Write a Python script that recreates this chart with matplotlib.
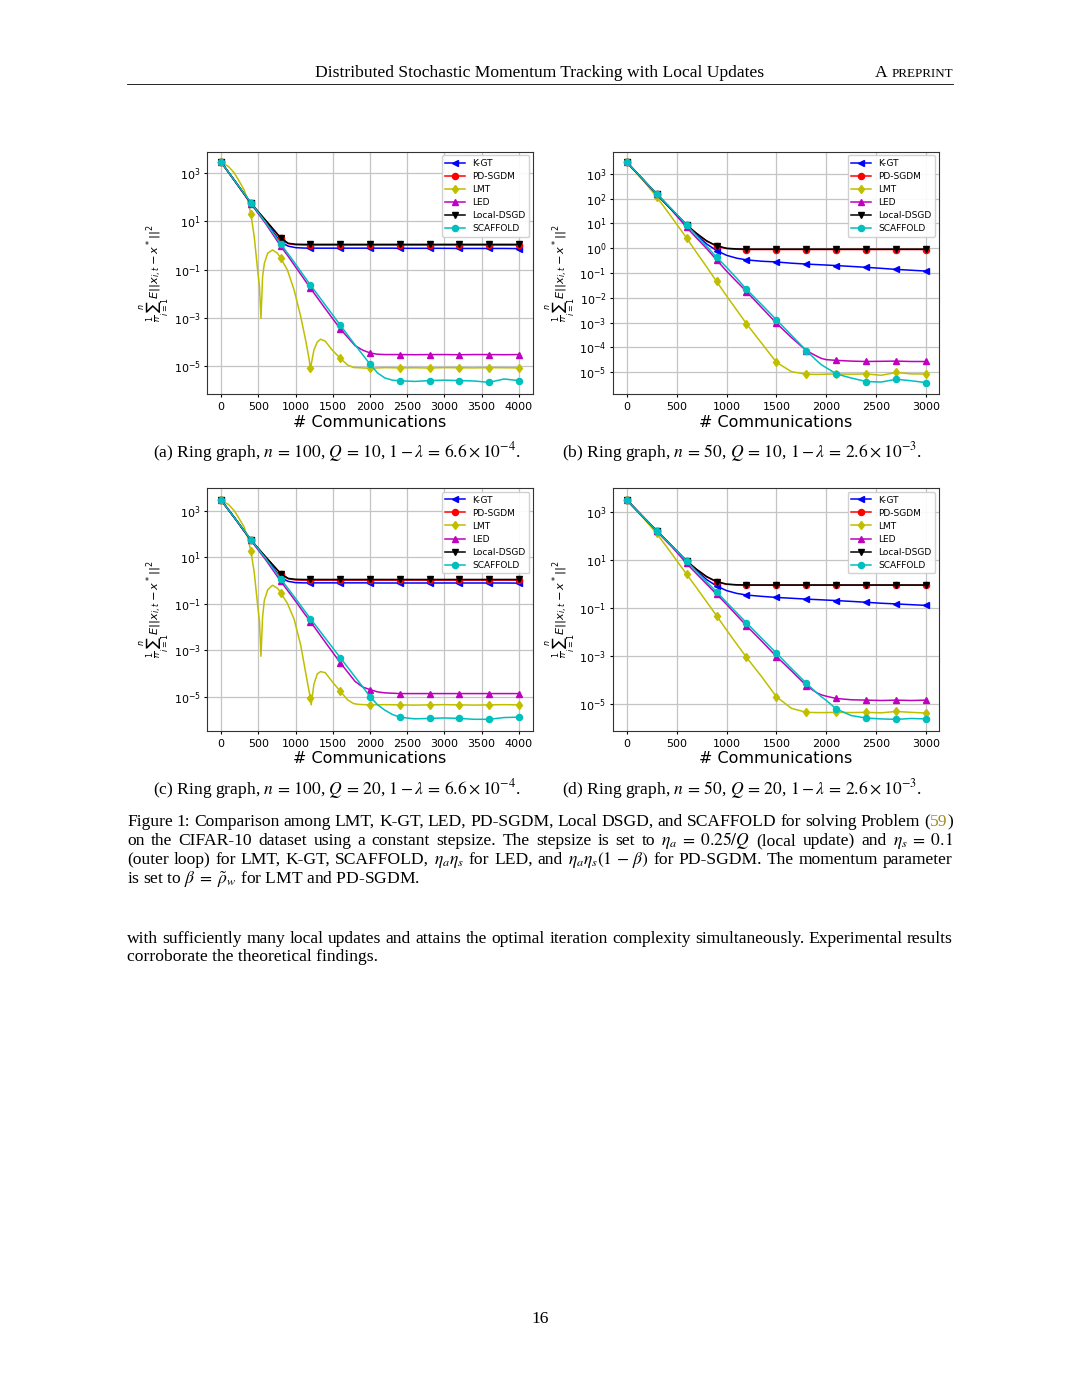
import math
import matplotlib
matplotlib.use('Agg')
import matplotlib.pyplot as plt
from matplotlib.ticker import FixedLocator, FuncFormatter, NullLocator
from matplotlib.lines import Line2D

# ---------------- data ----------------
# panels (a) and (c): 0..4000 communications, markers every 400
x_a = [0, 200, 400, 600, 800, 900, 1000, 1100, 1200, 1400, 1600, 1800, 1900, 2000,
       2100, 2200, 2300, 2400, 2600, 2800, 3000, 3200, 3400, 3600, 3800, 4000]

kgt_a = [2900, 410, 57, 9.5, 1.4, 0.95, 0.82, 0.79, 0.78, 0.78, 0.78, 0.78, 0.78, 0.78,
         0.78, 0.78, 0.78, 0.77, 0.77, 0.77, 0.77, 0.76, 0.76, 0.76, 0.76, 0.75]
pdsgdm_a = [2900, 410, 57, 10.5, 2.0, 1.2, 1.08, 1.06, 1.05, 1.05, 1.05, 1.05, 1.05, 1.05,
            1.05, 1.05, 1.05, 1.05, 1.05, 1.05, 1.05, 1.05, 1.05, 1.05, 1.05, 1.05]
led_a = [2900, 400, 55, 8.0, 0.95, 0.36, 0.13, 0.047, 0.017, 2.4e-3, 3.5e-4, 7.0e-5, 4.6e-5, 3.5e-5,
         3.1e-5, 3.0e-5, 3.0e-5, 3.0e-5, 2.95e-5, 3.0e-5, 3.0e-5, 2.95e-5, 3.0e-5, 3.0e-5, 2.95e-5, 3.0e-5]
localdsgd_a = [2900, 410, 58, 11, 2.1, 1.25, 1.14, 1.12, 1.12, 1.12, 1.12, 1.12, 1.12, 1.12,
               1.12, 1.12, 1.12, 1.12, 1.12, 1.12, 1.12, 1.12, 1.12, 1.12, 1.12, 1.12]
scaffold_a = [2900, 410, 60, 9.0, 1.16, 0.45, 0.17, 0.062, 0.023, 3.4e-3, 5.0e-4, 7.5e-5, 3.0e-5, 1.2e-5,
              5.2e-6, 3.2e-6, 2.6e-6, 2.45e-6, 2.3e-6, 2.5e-6, 2.6e-6, 2.5e-6, 2.4e-6, 2.1e-6, 2.9e-6, 2.5e-6]
x_lmt_a = [0, 100, 180, 250, 310, 350, 400, 445, 490, 515, 535, 557, 580, 625, 690, 757, 800,
           890, 980, 1070, 1135, 1180, 1200, 1247, 1292, 1336, 1400, 1490, 1600, 1700, 1780, 1850,
           2000, 2200, 2400, 2600, 2800, 3000, 3200, 3400, 3600, 3800, 4000]
lmt_a = [2900, 1900, 1000, 430, 200, 90, 20, 2.3, 0.098, 0.02, 9.5e-4, 0.051, 0.18, 0.48, 0.66, 0.48, 0.30,
         0.098, 0.0145, 1.1e-3, 1.2e-4, 2.1e-5, 8.0e-6, 4.7e-5, 1.0e-4, 1.3e-4, 1.07e-4, 4.7e-5, 2.1e-5, 1.1e-5, 8.7e-6, 8.5e-6,
         8.1e-6, 8.6e-6, 8.4e-6, 8.5e-6, 8.3e-6, 8.6e-6, 8.5e-6, 8.4e-6, 8.6e-6, 8.5e-6, 8.4e-6]

x_c = x_a
kgt_c = [2950, 420, 56, 9.5, 1.35, 0.93, 0.82, 0.80, 0.80, 0.80, 0.80, 0.80, 0.80, 0.80,
         0.79, 0.79, 0.79, 0.79, 0.79, 0.79, 0.79, 0.79, 0.79, 0.79, 0.79, 0.78]
pdsgdm_c = [2950, 420, 56, 10, 2.0, 1.2, 1.07, 1.05, 1.05, 1.05, 1.05, 1.05, 1.05, 1.05,
            1.05, 1.05, 1.05, 1.05, 1.05, 1.05, 1.05, 1.05, 1.05, 1.05, 1.05, 1.05]
led_c = [2950, 410, 54, 7.8, 0.95, 0.35, 0.13, 0.046, 0.017, 2.2e-3, 2.9e-4, 4.5e-5, 2.6e-5, 2.0e-5,
         1.6e-5, 1.45e-5, 1.4e-5, 1.35e-5, 1.35e-5, 1.35e-5, 1.35e-5, 1.35e-5, 1.35e-5, 1.35e-5, 1.35e-5, 1.35e-5]
localdsgd_c = [2950, 420, 56, 10.5, 2.0, 1.25, 1.14, 1.12, 1.12, 1.12, 1.12, 1.12, 1.12, 1.12,
               1.12, 1.12, 1.12, 1.12, 1.12, 1.12, 1.12, 1.12, 1.12, 1.12, 1.12, 1.12]
scaffold_c = [2950, 420, 58, 9.0, 1.18, 0.45, 0.17, 0.062, 0.023, 3.3e-3, 4.8e-4, 7.0e-5, 2.7e-5, 1.0e-5,
              4.5e-6, 2.6e-6, 1.7e-6, 1.3e-6, 1.1e-6, 1.15e-6, 1.2e-6, 1.15e-6, 1.05e-6, 1.05e-6, 1.25e-6, 1.3e-6]
x_lmt_c = [0, 100, 180, 250, 310, 350, 400, 445, 490, 515, 535, 557, 580, 625, 690, 757, 800,
           890, 980, 1070, 1135, 1180, 1200, 1210, 1247, 1292, 1336, 1400, 1490, 1600, 1700, 1780, 1850,
           2000, 2200, 2400, 2600, 2800, 3000, 3200, 3400, 3600, 3800, 4000]
lmt_c = [2900, 1900, 1000, 430, 200, 85, 19, 2.2, 0.09, 0.018, 5.5e-4, 0.028, 0.14, 0.40, 0.63, 0.47, 0.30,
         0.105, 0.022, 1.6e-3, 1.1e-4, 1.8e-5, 9.0e-6, 4.4e-6, 3.5e-5, 9.5e-5, 1.2e-4, 1.07e-4, 4.5e-5, 1.7e-5, 7.2e-6, 5.0e-6, 4.6e-6,
         4.4e-6, 4.5e-6, 4.4e-6, 4.3e-6, 4.4e-6, 4.5e-6, 4.4e-6, 4.3e-6, 4.4e-6, 4.5e-6, 4.4e-6]

# panels (b) and (d): 0..3000 communications, markers every 300
x_b = [0, 150, 300, 450, 600, 700, 800, 900, 1000, 1100, 1200, 1350, 1500, 1650, 1800,
       1900, 1950, 2000, 2100, 2250, 2400, 2550, 2700, 2850, 3000]

kgt_b = [3000, 680, 155, 37, 8.5, 3.5, 1.5, 0.81, 0.52, 0.40, 0.34, 0.30, 0.28, 0.25, 0.23,
         0.22, 0.215, 0.21, 0.20, 0.185, 0.17, 0.155, 0.14, 0.13, 0.12]
pdsgdm_b = [3000, 680, 150, 36, 8.5, 3.9, 1.95, 1.22, 0.97, 0.91, 0.89, 0.89, 0.89, 0.89, 0.89,
            0.89, 0.89, 0.89, 0.89, 0.89, 0.89, 0.89, 0.89, 0.89, 0.89]
lmt_b = [3000, 640, 120, 18, 2.6, 0.67, 0.18, 0.046, 0.012, 3.3e-3, 9.0e-4, 1.5e-4, 2.5e-5, 1.05e-5, 8.3e-6,
         8.1e-6, 8.2e-6, 8.3e-6, 8.5e-6, 8.3e-6, 8.5e-6, 7.5e-6, 9.8e-6, 8.5e-6, 8.5e-6]
led_b = [3000, 670, 150, 35, 7.0, 2.6, 0.98, 0.34, 0.12, 0.046, 0.018, 4.1e-3, 9.5e-4, 2.5e-4, 7.4e-5,
         4.5e-5, 3.6e-5, 3.2e-5, 3.0e-5, 2.8e-5, 2.7e-5, 2.75e-5, 2.8e-5, 2.7e-5, 2.7e-5]
localdsgd_b = [3000, 680, 155, 37, 8.7, 4.0, 2.0, 1.26, 1.0, 0.94, 0.92, 0.92, 0.92, 0.92, 0.92,
               0.92, 0.92, 0.92, 0.92, 0.92, 0.92, 0.92, 0.92, 0.92, 0.92]
scaffold_b = [3000, 690, 158, 38, 8.7, 3.2, 1.2, 0.44, 0.17, 0.063, 0.022, 5.4e-3, 1.3e-3, 3.1e-4, 7.4e-5,
              3.0e-5, 2.0e-5, 1.5e-5, 8.5e-6, 5.8e-6, 4.2e-6, 4.0e-6, 5.2e-6, 4.5e-6, 3.8e-6]

x_d = x_b
kgt_d = [3100, 700, 162, 38, 8.6, 3.6, 1.5, 0.81, 0.52, 0.40, 0.34, 0.30, 0.27, 0.25, 0.23,
         0.22, 0.215, 0.21, 0.20, 0.185, 0.17, 0.155, 0.145, 0.135, 0.126]
pdsgdm_d = [3100, 700, 155, 37, 8.6, 3.9, 1.95, 1.2, 0.95, 0.89, 0.87, 0.87, 0.87, 0.87, 0.87,
            0.87, 0.87, 0.87, 0.87, 0.87, 0.87, 0.87, 0.87, 0.87, 0.87]
lmt_d = [3000, 650, 125, 18, 2.5, 0.68, 0.18, 0.047, 0.012, 3.2e-3, 8.7e-4, 1.4e-4, 2.0e-5, 6.6e-6, 4.5e-6,
         4.4e-6, 4.4e-6, 4.4e-6, 4.5e-6, 4.4e-6, 4.5e-6, 4.3e-6, 4.9e-6, 4.5e-6, 4.2e-6]
led_d = [3100, 690, 155, 36, 7.0, 2.6, 0.98, 0.37, 0.14, 0.05, 0.018, 4.2e-3, 9.4e-4, 2.4e-4, 5.8e-5,
         3.0e-5, 2.4e-5, 2.1e-5, 1.7e-5, 1.5e-5, 1.45e-5, 1.4e-5, 1.45e-5, 1.4e-5, 1.45e-5]
localdsgd_d = [3100, 700, 162, 38, 9.0, 4.0, 2.0, 1.23, 0.97, 0.91, 0.89, 0.89, 0.89, 0.89, 0.89,
               0.89, 0.89, 0.89, 0.89, 0.89, 0.89, 0.89, 0.89, 0.89, 0.89]
scaffold_d = [3100, 700, 160, 38, 8.7, 3.2, 1.2, 0.47, 0.17, 0.063, 0.024, 5.5e-3, 1.3e-3, 3.0e-4, 7.2e-5,
              3.0e-5, 2.0e-5, 1.4e-5, 6.2e-6, 3.3e-6, 2.6e-6, 2.4e-6, 2.3e-6, 2.5e-6, 2.4e-6]

names = ['K-GT', 'PD-SGDM', 'LMT', 'LED', 'Local-DSGD', 'SCAFFOLD']
colors = ['b', 'r', 'y', 'm', 'k', 'c']
markers = ['<', 'o', 'd', '^', 'v', 'o']

captions = [
    r'(a) Ring graph, $n\,=\,100$, $Q\,=\,10$, $1-\lambda\,=\,6.6\times10^{-4}$.',
    r'(b) Ring graph, $n\,=\,50$, $Q\,=\,10$, $1-\lambda\,=\,2.6\times10^{-3}$.',
    r'(c) Ring graph, $n\,=\,100$, $Q\,=\,20$, $1-\lambda\,=\,6.6\times10^{-4}$.',
    r'(d) Ring graph, $n\,=\,50$, $Q\,=\,20$, $1-\lambda\,=\,2.6\times10^{-3}$.',
]

W, H = 1080, 1398
fig = plt.figure(figsize=(W / 100, H / 100), dpi=100)

panels = [
    dict(box=(207, 394), xs=[x_a, x_a, x_lmt_a, x_a, x_a, x_a],
         ys=[kgt_a, pdsgdm_a, lmt_a, led_a, localdsgd_a, scaffold_a],
         xt=range(0, 4001, 500), step=400, xl=(-190, 4190), yl=(3.90, -6.16), yt=[3, 1, -1, -3, -5]),
    dict(box=(612.7, 394), xs=[x_b] * 6,
         ys=[kgt_b, pdsgdm_b, lmt_b, led_b, localdsgd_b, scaffold_b],
         xt=range(0, 3001, 500), step=300, xl=(-140, 3125), yl=(3.90, -5.88), yt=[3, 2, 1, 0, -1, -2, -3, -4, -5]),
    dict(box=(207, 730.7), xs=[x_c, x_c, x_lmt_c, x_c, x_c, x_c],
         ys=[kgt_c, pdsgdm_c, lmt_c, led_c, localdsgd_c, scaffold_c],
         xt=range(0, 4001, 500), step=400, xl=(-190, 4190), yl=(3.98, -6.47), yt=[3, 1, -1, -3, -5]),
    dict(box=(612.7, 730.7), xs=[x_d] * 6,
         ys=[kgt_d, pdsgdm_d, lmt_d, led_d, localdsgd_d, scaffold_d],
         xt=range(0, 3001, 500), step=300, xl=(-140, 3125), yl=(3.97, -6.11), yt=[3, 1, -1, -3, -5]),
]

ylab = r'$\frac{1}{n}\sum_{i=1}^{n}E||x_{i,t}-x^*||^2$'

for p in panels:
    left, bottom = p['box']
    ax = fig.add_axes([left / W, 1 - bottom / H, 326 / W, 242.4 / H])
    for xs, ys, name, c, m in zip(p['xs'], p['ys'], names, colors, markers):
        idx = [i for i, x in enumerate(xs) if x % p['step'] == 0]
        ax.plot(xs, ys, color=c, marker=m, markevery=idx, ms=4.4, lw=1.1, label=name)
    ax.set_yscale('log')
    ax.set_xlim(*p['xl'])
    ax.set_ylim(10 ** p['yl'][1], 10 ** p['yl'][0])
    ax.set_xticks(list(p['xt']))
    ax.yaxis.set_major_locator(FixedLocator([10.0 ** e for e in p['yt']]))
    ax.yaxis.set_major_formatter(FuncFormatter(lambda v, pos: r'$\mathdefault{10^{%d}}$' % round(math.log10(v))))
    ax.yaxis.set_minor_locator(NullLocator())
    ax.grid(True, color='#c4c4c4', lw=0.9)
    ax.tick_params(labelsize=8, length=2.5, pad=2)
    ax.tick_params(axis='x', pad=3.2)
    for s in ax.spines.values():
        s.set_color('#333333')
        s.set_linewidth(0.8)
    ax.set_xlabel('# Communications', fontsize=11.5, labelpad=2)
    ax.set_ylabel(ylab, fontsize=8.2, labelpad=1)
    ax.legend(loc='upper right', fontsize=6.5, handlelength=2.2, borderaxespad=0.4,
              labelspacing=0.45, framealpha=0.9)

# ---------------- page text ----------------
SERIF = 'Liberation Serif'
FS = 12.6
renderer = fig.canvas.get_renderer()


def put(x, y, s, size=FS, color='black', ha='left'):
    return fig.text(x / W, 1 - y / H, s, fontsize=size, family=SERIF, math_fontfamily='stix',
                    color=color, ha=ha, va='baseline')


def width(s, size=FS):
    t = put(0, 0, s, size=size)
    w = t.get_window_extent(renderer).width
    t.remove()
    return w


def words_of(line):
    out, cur, inmath = [], '', False
    for ch in line:
        if ch == '$':
            inmath = not inmath
        if ch == ' ' and not inmath:
            if cur:
                out.append(cur)
            cur = ''
        else:
            cur += ch
    if cur:
        out.append(cur)
    return out


def justify(y, line, x0=127, x1=953, tail=None):
    words = [[(w, 'black')] for w in words_of(line)]
    if tail:
        words.append(tail)
    ws = [sum(width(s) for s, _ in wd) for wd in words]
    gap = (x1 - x0 - sum(ws)) / (len(words) - 1)
    x = x0
    for wd, w in zip(words, ws):
        xx = x
        for s, c in wd:
            put(xx, y, s, color=c)
            xx += width(s)
        x += w + gap


# running header
put(540, 77, 'Distributed Stochastic Momentum Tracking with Local Updates', ha='center')
wp = width('PREPRINT', size=9.4)
put(953, 77, 'PREPRINT', size=9.4, ha='right')
put(953 - wp - 3.5, 77, 'A', ha='right')
fig.add_artist(Line2D([127 / W, 953 / W], [1 - 83.5 / H] * 2, lw=0.6, color='black'))

# sub-captions
put(337, 457, captions[0], ha='center')
put(742, 457, captions[1], ha='center')
put(337, 794, captions[2], ha='center')
put(742, 794, captions[3], ha='center')

# figure caption
justify(826, 'Figure 1: Comparison among LMT, K-GT, LED, PD-SGDM, Local DSGD, and SCAFFOLD for solving Problem',
        tail=[('(', 'black'), ('59', '#a38d25'), (')', 'black')])
justify(845, r'on the CIFAR-10 dataset using a constant stepsize. The stepsize is set to $\eta_a\;=\;0.25/Q$ (local update) and $\eta_s\;=\;0.1$')
justify(864, r'(outer loop) for LMT, K-GT, SCAFFOLD, $\eta_a\eta_s$ for LED, and $\eta_a\eta_s(1\,-\,\beta)$ for PD-SGDM. The momentum parameter')
put(127, 884, r'is set to $\beta\;=\;\tilde{\rho}_w$ for LMT and PD-SGDM.')

# body text
justify(943, 'with sufficiently many local updates and attains the optimal iteration complexity simultaneously. Experimental results')
put(127, 961, 'corroborate the theoretical findings.')

# page number
put(540, 1323, '16', ha='center')

fig.savefig('out.png', dpi=100)
